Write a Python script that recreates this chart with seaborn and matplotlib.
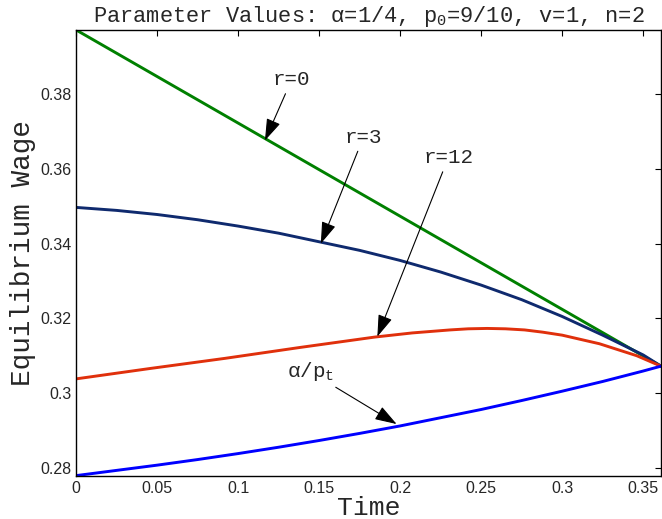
import matplotlib
matplotlib.use("Agg")
import matplotlib.pyplot as plt
import matplotlib.ticker as mticker
import seaborn as sns
import pandas as pd

# values
t_r0 = [0.0, 0.361]
w_r0 = [0.3972, 0.3072]

t_r3 = [0.0, 0.025, 0.05, 0.075, 0.1, 0.125, 0.15, 0.175, 0.2, 0.225, 0.25, 0.275, 0.3, 0.325,
        0.35, 0.361]
w_r3 = [0.3497, 0.3489, 0.3478, 0.3464, 0.3447, 0.3428, 0.3405, 0.3382, 0.3355, 0.3324, 0.3289,
        0.3250, 0.3205, 0.3155, 0.3102, 0.3072]

t_r12 = [0.0, 0.046, 0.092, 0.138, 0.1845, 0.2075, 0.2307, 0.242, 0.2537, 0.265, 0.2768, 0.288,
         0.3, 0.323, 0.346, 0.361]
w_r12 = [0.3038, 0.3066, 0.3093, 0.3122, 0.3150, 0.3161, 0.3169, 0.3172, 0.3173, 0.3172, 0.3169,
         0.3163, 0.3155, 0.3132, 0.3100, 0.3072]

t_ap = [0.0, 0.025, 0.05, 0.075, 0.1, 0.125, 0.15, 0.175, 0.2, 0.225, 0.25, 0.275, 0.3, 0.325,
        0.35, 0.361]
w_ap = [0.2779, 0.2793, 0.2807, 0.2822, 0.2838, 0.2855, 0.2873, 0.2892, 0.2912, 0.2934, 0.2956,
        0.2980, 0.3005, 0.3031, 0.3059, 0.3072]

series_names = ["r=0", "r=3", "r=12", "alpha/p"]
colors = ["#008000", "#0f2a6e", "#e0300c", "#0000ff"]

x_ticks = [0, 0.05, 0.1, 0.15, 0.2, 0.25, 0.3, 0.35]
y_ticks = [0.28, 0.30, 0.32, 0.34, 0.36, 0.38]

frames = []
for name, t, w in zip(series_names, [t_r0, t_r3, t_r12, t_ap], [w_r0, w_r3, w_r12, w_ap]):
    frames.append(pd.DataFrame({"t": t, "w": w, "series": name}))
df = pd.concat(frames, ignore_index=True)

sns.set_style("white")
plt.rcParams["xtick.direction"] = "in"
plt.rcParams["ytick.direction"] = "in"
plt.rcParams["mathtext.fontset"] = "custom"
plt.rcParams["mathtext.rm"] = "Liberation Mono"
plt.rcParams["mathtext.it"] = "Liberation Mono"
plt.rcParams["mathtext.default"] = "regular"

mono = "Liberation Mono"

fig = plt.figure(figsize=(6.62, 5.19), dpi=100)
ax = fig.add_axes([0.1151, 0.0829, 0.8834, 0.8593])

sns.lineplot(data=df, x="t", y="w", hue="series", hue_order=series_names, palette=colors,
             estimator=None, sort=False, legend=False, linewidth=2.1, ax=ax)

ax.set_xlim(0, 0.361)
ax.set_ylim(0.2778, 0.3972)
ax.set_xticks(x_ticks)
ax.set_yticks(y_ticks)
ax.xaxis.set_major_formatter(mticker.FormatStrFormatter("%g"))
ax.yaxis.set_major_formatter(mticker.FormatStrFormatter("%g"))
ax.tick_params(axis="both", which="major", length=4, width=0.8, color="black",
               top=True, right=True, labelsize=11.5, pad=3.5)
for lab in ax.get_xticklabels() + ax.get_yticklabels():
    lab.set_fontfamily("Liberation Sans")
for sp in ax.spines.values():
    sp.set_color("black")
    sp.set_linewidth(1.0)

ax.set_xlabel("Time", fontfamily=mono, fontsize=19, va="baseline")
ax.xaxis.set_label_coords(0.5, -0.0874)
ax.set_ylabel("Equilibrium Wage", fontfamily=mono, fontsize=20, labelpad=3)
ax.set_title("Parameter Values: α=1/4, p$_0$=9/10, v=1, n=2", fontfamily=mono, fontsize=15.8, pad=6)

arrow = dict(arrowstyle="-|>,head_length=0.9,head_width=0.3", color="black", lw=0.8,
             shrinkA=1, shrinkB=0)
ax.annotate("r=0", xy=(0.1165, 0.3676), xytext=(0.133, 0.3839), fontfamily=mono, fontsize=15,
            ha="center", va="center", arrowprops=arrow)
ax.annotate("r=3", xy=(0.151, 0.3400), xytext=(0.1773, 0.3685), fontfamily=mono, fontsize=15,
            ha="center", va="center", arrowprops=arrow)
ax.annotate("r=12", xy=(0.1859, 0.3151), xytext=(0.2297, 0.3630), fontfamily=mono, fontsize=15,
            ha="center", va="center", arrowprops=arrow)
ax.annotate("α/p$_t$", xy=(0.1978, 0.2917), xytext=(0.1444, 0.3057), fontfamily=mono, fontsize=15,
            ha="center", va="center", arrowprops=arrow)

fig.savefig("out.png", dpi=100)
